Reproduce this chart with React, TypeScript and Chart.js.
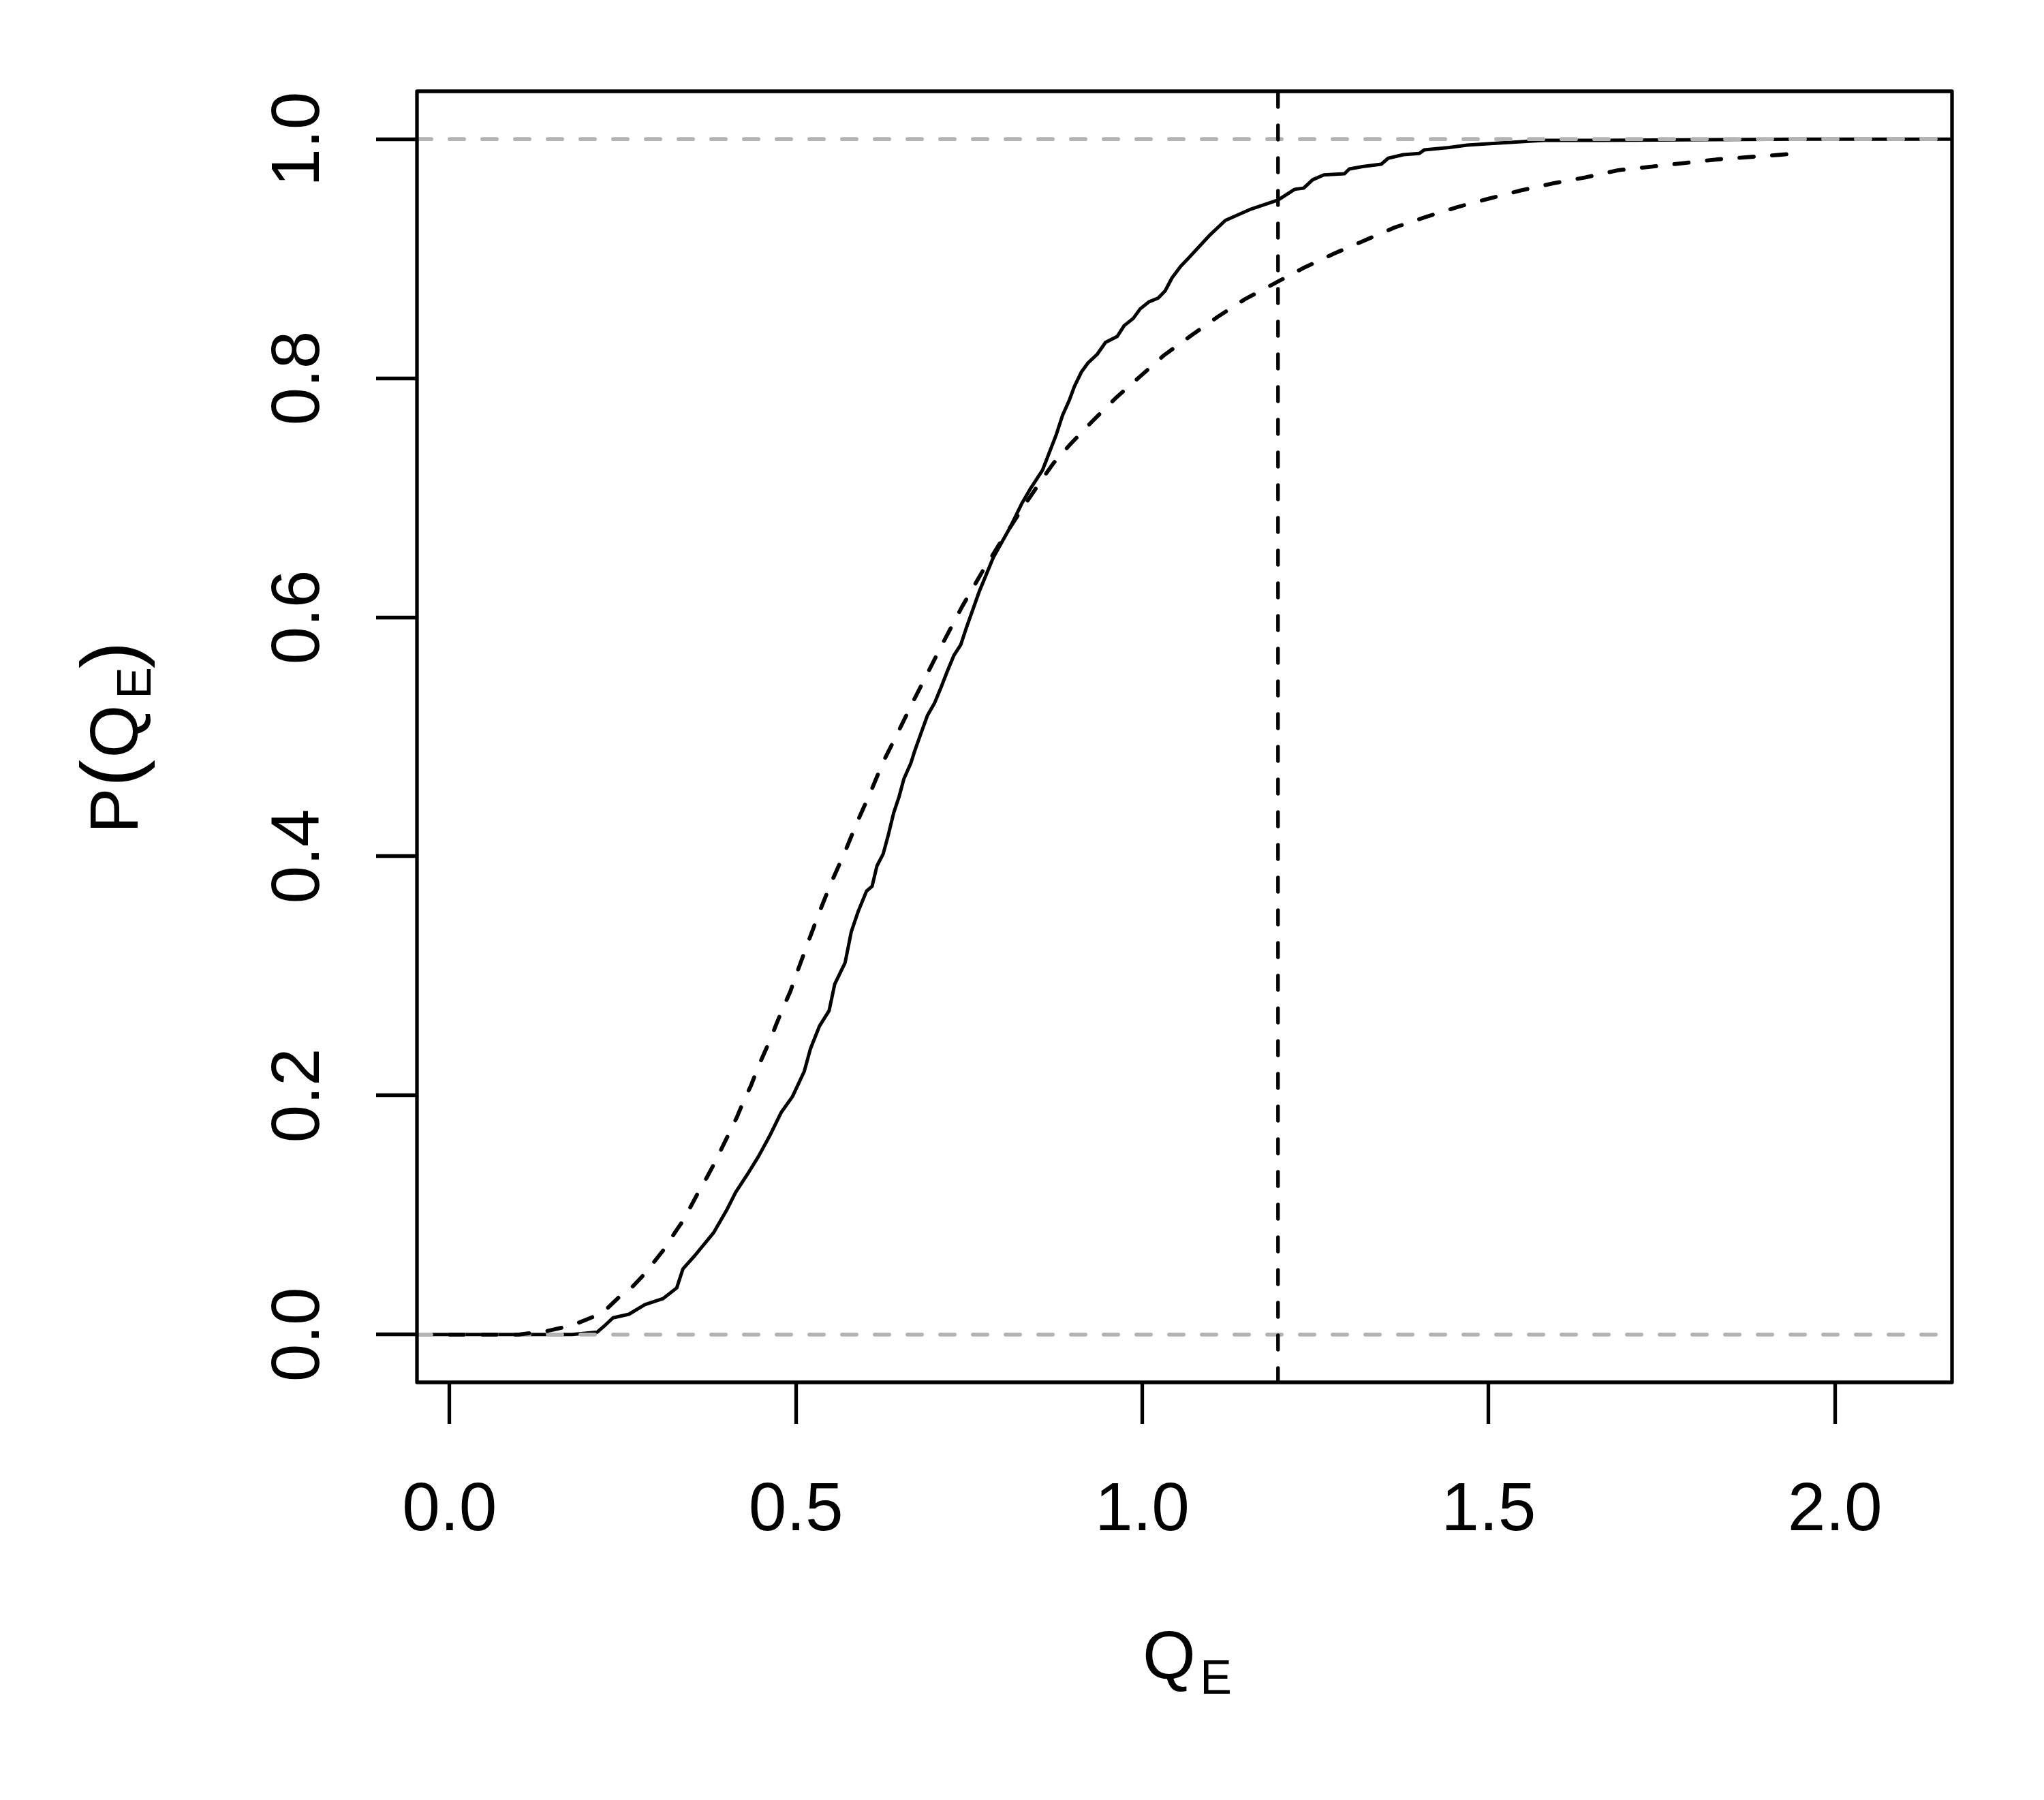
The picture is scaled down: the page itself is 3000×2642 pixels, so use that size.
import React, { useEffect, useRef } from "react";
import { Chart, registerables } from "chart.js";

Chart.register(...registerables);

// Axis limits and ticks
const X_LIMITS = [-0.047, 2.169];
const Y_LIMITS = [-0.04, 1.04];
const X_TICKS = [0, 0.5, 1.0, 1.5, 2.0];
const Y_TICKS = [0, 0.2, 0.4, 0.6, 0.8, 1.0];

// Empirical CDF (solid)
const ECDF_X = [
  0.177, 0.213, 0.225, 0.236, 0.259, 0.282, 0.308, 0.328, 0.337, 0.354,
  0.381, 0.400, 0.413, 0.430, 0.446, 0.462, 0.479, 0.495, 0.512, 0.521,
  0.534, 0.548, 0.556, 0.571, 0.580, 0.590, 0.602, 0.610, 0.617, 0.626,
  0.633, 0.641, 0.649, 0.656, 0.666, 0.672, 0.680, 0.690, 0.700, 0.710,
  0.718, 0.728, 0.738, 0.746, 0.765, 0.785, 0.810, 0.826, 0.839, 0.856,
  0.866, 0.876, 0.885, 0.895, 0.902, 0.912, 0.922, 0.935, 0.947, 0.964,
  0.974, 0.987, 0.997, 1.010, 1.023, 1.033, 1.043, 1.056, 1.066, 1.098,
  1.120, 1.155, 1.196, 1.220, 1.233, 1.246, 1.262, 1.292, 1.299, 1.318,
  1.345, 1.355, 1.377, 1.400, 1.407, 1.443, 1.469, 1.495, 1.551, 1.580,
  1.660, 1.945,
];
const ECDF_Y = [
  0.000, 0.002, 0.008, 0.014, 0.017, 0.025, 0.030, 0.039, 0.055, 0.066,
  0.085, 0.104, 0.119, 0.134, 0.149, 0.166, 0.186, 0.199, 0.220, 0.239,
  0.258, 0.271, 0.293, 0.311, 0.337, 0.354, 0.371, 0.375, 0.392, 0.402,
  0.417, 0.436, 0.450, 0.465, 0.478, 0.489, 0.502, 0.518, 0.528, 0.542,
  0.554, 0.568, 0.577, 0.591, 0.622, 0.650, 0.676, 0.695, 0.708, 0.723,
  0.738, 0.753, 0.769, 0.782, 0.793, 0.805, 0.813, 0.820, 0.830, 0.835,
  0.844, 0.850, 0.858, 0.864, 0.867, 0.873, 0.884, 0.894, 0.900, 0.920,
  0.932, 0.941, 0.949, 0.958, 0.959, 0.966, 0.970, 0.971, 0.975, 0.977,
  0.979, 0.984, 0.987, 0.988, 0.991, 0.993, 0.995, 0.996, 0.998, 0.999,
  0.999, 1.000,
];

// Fitted CDF (dashed)
const CDF_X = [
  0.000, 0.100, 0.141, 0.164, 0.187, 0.208, 0.228, 0.246, 0.264, 0.282,
  0.297, 0.312, 0.325, 0.338, 0.349, 0.361, 0.372, 0.384, 0.394, 0.405,
  0.415, 0.425, 0.435, 0.445, 0.454, 0.464, 0.472, 0.482, 0.492, 0.503,
  0.515, 0.533, 0.551, 0.571, 0.588, 0.608, 0.626, 0.646, 0.667, 0.689,
  0.710, 0.740, 0.770, 0.800, 0.828, 0.856, 0.872, 0.895, 0.928, 0.961,
  0.996, 1.031, 1.069, 1.108, 1.148, 1.190, 1.232, 1.276, 1.320, 1.364,
  1.410, 1.454, 1.499, 1.546, 1.593, 1.640, 1.687, 1.735, 1.782, 1.829,
  1.876, 1.923, 1.945,
];
const CDF_Y = [
  0.000, 0.000, 0.003, 0.006, 0.010, 0.015, 0.022, 0.032, 0.040, 0.051,
  0.062, 0.073, 0.085, 0.096, 0.108, 0.121, 0.132, 0.145, 0.157, 0.170,
  0.182, 0.196, 0.208, 0.223, 0.235, 0.248, 0.260, 0.274, 0.287, 0.305,
  0.324, 0.352, 0.378, 0.404, 0.428, 0.454, 0.479, 0.502, 0.527, 0.552,
  0.576, 0.609, 0.639, 0.667, 0.692, 0.716, 0.729, 0.744, 0.764, 0.783,
  0.801, 0.819, 0.835, 0.851, 0.866, 0.879, 0.892, 0.904, 0.915, 0.926,
  0.935, 0.943, 0.950, 0.957, 0.963, 0.968, 0.974, 0.977, 0.980, 0.983,
  0.985, 0.987, 0.988,
];

// Reference lines
const V_LINE_X = [1.196];
const H_LINE_Y = [0, 1];

const FONT = '"Liberation Sans", Arial, Helvetica, sans-serif';
const DASH = [21, 27];

const decorPlugin = {
  id: "decor",
  afterDraw(chart: any) {
    const ctx = chart.ctx as CanvasRenderingContext2D;
    const { left, right, top, bottom } = chart.chartArea;
    const xs = chart.scales.x;
    const ys = chart.scales.y;
    ctx.save();
    // box
    ctx.strokeStyle = "#000";
    ctx.lineWidth = 5.3;
    ctx.lineJoin = "round";
    ctx.strokeRect(left, top, right - left, bottom - top);

    ctx.fillStyle = "#000";
    ctx.textAlign = "center";
    ctx.textBaseline = "alphabetic";
    ctx.font = `100px ${FONT}`;
    // x tick labels
    X_TICKS.forEach((v) => {
      ctx.fillText(v.toFixed(1), xs.getPixelForValue(v), bottom + 217);
    });
    // y tick labels (rotated)
    Y_TICKS.forEach((v) => {
      ctx.save();
      ctx.translate(left - 144, ys.getPixelForValue(v));
      ctx.rotate(-Math.PI / 2);
      ctx.fillText(v.toFixed(1), 0, 0);
      ctx.restore();
    });

    // x title: Q_E
    const cx = (left + right) / 2;
    ctx.font = `100px ${FONT}`;
    ctx.fillText("Q", cx - 22.5, bottom + 435);
    ctx.font = `70px ${FONT}`;
    ctx.fillText("E", cx + 46, bottom + 457);

    // y title: P(Q_E)
    const cy = (top + bottom) / 2;
    ctx.save();
    ctx.translate(left - 410, cy);
    ctx.rotate(-Math.PI / 2);
    ctx.font = `100px ${FONT}`;
    ctx.fillText("P", -108.5, 0);
    ctx.fillText("Q", 8, 0);
    ctx.font = `119px ${FONT}`;
    ctx.fillText("(", -53.5, 0);
    ctx.fillText(")", 120, 0);
    ctx.font = `70px ${FONT}`;
    ctx.fillText("E", 79, 19);
    ctx.restore();

    ctx.restore();
  },
};

export default function App() {
  const canvasRef = useRef<HTMLCanvasElement | null>(null);

  useEffect(() => {
    const canvas = canvasRef.current;
    if (!canvas) return;

    const ecdfData = [
      { x: X_LIMITS[0], y: 0 },
      ...ECDF_X.map((x, i) => ({ x, y: ECDF_Y[i] })),
      { x: X_LIMITS[1], y: 1 },
    ];
    const cdfData = CDF_X.map((x, i) => ({ x, y: CDF_Y[i] }));

    const hLineSets = H_LINE_Y.map((y) => ({
      label: `h${y}`,
      data: [
        { x: X_LIMITS[0], y },
        { x: X_LIMITS[1], y },
      ],
      borderColor: "#b3b3b3",
      borderWidth: 5.8,
      borderDash: DASH,
      borderCapStyle: "round" as const,
      pointRadius: 0,
      showLine: true,
      order: 2,
    }));

    const vLineSets = V_LINE_X.map((x) => ({
      label: `v${x}`,
      data: [
        { x, y: Y_LIMITS[0] },
        { x, y: Y_LIMITS[1] },
      ],
      borderColor: "#000",
      borderWidth: 5.3,
      borderDash: DASH,
      borderCapStyle: "round" as const,
      pointRadius: 0,
      showLine: true,
      order: 1,
    }));

    const chart = new Chart(canvas, {
      type: "scatter",
      data: {
        datasets: [
          {
            label: "fitted",
            data: cdfData,
            borderColor: "#000",
            borderWidth: 5.8,
            borderDash: DASH,
            borderCapStyle: "round",
            borderJoinStyle: "round",
            pointRadius: 0,
            showLine: true,
            tension: 0,
            order: 0,
          },
          ...vLineSets,
          ...hLineSets,
          {
            label: "ecdf",
            data: ecdfData,
            borderColor: "#000",
            borderWidth: 5,
            borderCapStyle: "round",
            borderJoinStyle: "round",
            pointRadius: 0,
            showLine: true,
            tension: 0,
            order: 3,
          },
        ] as any,
      },
      options: {
        responsive: false,
        devicePixelRatio: 1,
        animation: false,
        layout: { padding: { left: 0, top: 134, right: 135, bottom: 0 } },
        plugins: {
          legend: { display: false },
          tooltip: { enabled: false },
          title: { display: false },
        },
        scales: {
          x: {
            type: "linear",
            min: X_LIMITS[0],
            max: X_LIMITS[1],
            afterBuildTicks: (s: any) => {
              s.ticks = X_TICKS.map((v) => ({ value: v }));
            },
            afterFit: (s: any) => {
              s.height = 613;
            },
            ticks: { display: false },
            border: { display: false },
            grid: {
              display: true,
              drawOnChartArea: false,
              drawTicks: true,
              tickLength: 61,
              tickWidth: 5.3,
              tickColor: "#000",
              color: "#000",
            },
          },
          y: {
            type: "linear",
            min: Y_LIMITS[0],
            max: Y_LIMITS[1],
            afterBuildTicks: (s: any) => {
              s.ticks = Y_TICKS.map((v) => ({ value: v }));
            },
            afterFit: (s: any) => {
              s.width = 612;
            },
            ticks: { display: false },
            border: { display: false },
            grid: {
              display: true,
              drawOnChartArea: false,
              drawTicks: true,
              tickLength: 60,
              tickWidth: 5.3,
              tickColor: "#000",
              color: "#000",
            },
          },
        },
      } as any,
      plugins: [decorPlugin],
    });

    return () => chart.destroy();
  }, []);

  return (
    <div style={{ position: "absolute", left: 0, top: 0, width: 3000, height: 2642, background: "#fff" }}>
      <canvas
        ref={canvasRef}
        width={3000}
        height={2642}
        style={{ display: "block", width: 3000, height: 2642 }}
      />
    </div>
  );
}
